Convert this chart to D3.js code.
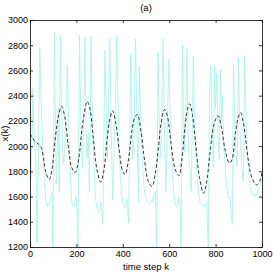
<!DOCTYPE html>
<html>
<head>
<meta charset="utf-8">
<script src="https://cdn.jsdelivr.net/npm/d3@7"></script>
<style>
  html, body { margin: 0; padding: 0; background: #fff; }
  svg { display: block; font-family: "Liberation Sans", Arial, sans-serif; }
  .axis text { font-size: 9px; fill: #000; }
  .axis path, .axis line { stroke: #000; stroke-width: 0.8; }
</style>
</head>
<body>
<div id="chart"></div>
<script>
// noisy trajectory (cyan)
const cyanK = [0, 3, 7, 13, 17, 22, 26, 30, 35, 42, 46, 50, 55, 60, 65, 70, 75, 80, 85, 90, 95, 99,
  105, 109, 113, 117, 121, 126, 131, 135, 140, 146, 152, 161, 165, 170, 175, 180, 186, 192, 197, 201,
  207, 213, 217, 222, 227, 232, 237, 241, 246, 251, 256, 263, 267, 272, 278, 284, 290, 296, 301, 305,
  309, 314, 323, 328, 333, 338, 344, 349, 353, 357, 362, 368, 374, 379, 384, 390, 396, 402, 408, 414,
  418, 421, 425, 434, 438, 443, 448, 455, 459, 463, 467, 471, 476, 481, 487, 493, 500, 507, 514, 520,
  526, 531, 535, 540, 546, 552, 556, 561, 566, 573, 578, 582, 586, 592, 599, 603, 608, 614, 620, 627,
  633, 638, 643, 646, 651, 657, 661, 666, 671, 676, 680, 685, 690, 695, 700, 704, 708, 713, 719, 726,
  732, 738, 744, 750, 756, 762, 768, 774, 779, 784, 790, 796, 800, 805, 810, 816, 821, 826, 830, 836,
  843, 850, 856, 862, 868, 872, 877, 882, 887, 893, 898, 903, 908, 914, 920, 925, 930, 936, 942, 948,
  954, 960, 966, 972, 978, 984, 990, 995, 1000];
const cyanV = [2100, 1720, 1950, 2460, 2100, 1980, 1850, 1230, 1750, 2780, 2500, 2250, 2000, 1800, 1640, 1540, 1520, 1550, 1540, 1600, 1640, 1200,
  2900, 2300, 1700, 1900, 2300, 1640, 2870, 2400, 2000, 1850, 2100, 2640, 2300, 2000, 1750, 1560, 1520, 1530, 1600, 1580,
  1200, 2880, 2400, 2000, 1830, 2300, 2860, 2200, 1900, 2100, 1640, 2870, 2400, 2000, 1750, 1560, 1490, 1470, 1500, 1560,
  1480, 1380, 2760, 2300, 1900, 2300, 2850, 2300, 1850, 1570, 2000, 2300, 2870, 2400, 2000, 1750, 1600, 1530, 1510, 1540,
  1580, 1500, 1390, 2730, 2300, 1900, 2100, 2850, 2400, 2000, 1560, 2630, 2300, 2000, 1800, 1650, 1580, 1560, 1540, 1550,
  1580, 1560, 1620, 1640, 1200, 2740, 2300, 1900, 2100, 2850, 2300, 1900, 1640, 2200, 2690, 2300, 2000, 1780, 1620, 1530,
  1520, 1550, 1600, 1580, 1200, 2800, 2300, 1950, 2200, 2770, 2300, 1900, 1800, 1640, 2200, 2710, 2300, 2000, 1800, 1640,
  1560, 1530, 1520, 1540, 1520, 1550, 1200, 2420, 2640, 2200, 1830, 2640, 2300, 2580, 2100, 1900, 2600, 2200, 2400, 2000,
  1770, 1650, 1590, 1600, 1450, 1380, 2650, 2200, 1950, 1840, 2700, 2300, 2000, 1800, 1720, 2710, 2300, 2000, 1800, 1680,
  1620, 1610, 1620, 1600, 1630, 1650, 1680, 1720, 1790];

// smooth trajectory (dashed)
const meanK = [0, 20, 40, 50, 60, 70, 83, 95, 110, 125, 137, 150, 165, 180, 195, 210, 225, 240, 246, 258,
  272, 288, 305, 318, 332, 345, 356, 370, 385, 398, 410, 425, 440, 452, 463, 478, 495, 510, 526, 540,
  552, 565, 580, 592, 608, 625, 642, 655, 668, 680, 688, 700, 715, 730, 748, 760, 775, 790, 805, 812,
  825, 840, 860, 872, 885, 898, 908, 922, 940, 958, 977, 990, 1000];
const meanV = [2100, 2040, 2010, 1980, 1880, 1780, 1735, 1820, 2080, 2260, 2315, 2230, 2000, 1830, 1790, 1900, 2150, 2320, 2355, 2300,
  2080, 1820, 1715, 1800, 2050, 2220, 2280, 2180, 1960, 1810, 1775, 1900, 2130, 2230, 2250, 2120, 1870, 1720, 1680, 1780,
  1960, 2180, 2290, 2240, 2020, 1820, 1765, 1900, 2150, 2300, 2335, 2250, 2000, 1760, 1625, 1700, 1930, 2150, 2230, 2240,
  2150, 1980, 1865, 1900, 2100, 2230, 2265, 2160, 1900, 1740, 1692, 1720, 1790];

const xTicks = [0, 200, 400, 600, 800, 1000];
const yTicks = [1200, 1400, 1600, 1800, 2000, 2200, 2400, 2600, 2800, 3000];

const width = 273, height = 273;
const margin = { top: 20, right: 11, bottom: 26, left: 30 };
const innerWidth = width - margin.left - margin.right;
const innerHeight = height - margin.top - margin.bottom;

const svg = d3.select("#chart").append("svg")
    .attr("width", width).attr("height", height);
const g = svg.append("g").attr("transform", `translate(${margin.left},${margin.top})`);

const x = d3.scaleLinear().domain([0, 1000]).range([0, innerWidth]);
const y = d3.scaleLinear().domain([1200, 3000]).range([innerHeight, 0]);
const fmt = d3.format("d");

g.append("clipPath").attr("id", "clip").append("rect")
    .attr("width", innerWidth).attr("height", innerHeight);

const plot = g.append("g").attr("clip-path", "url(#clip)");

plot.append("path")
    .datum(d3.range(cyanK.length))
    .attr("fill", "none")
    .attr("stroke", "#a3f7e6")
    .attr("stroke-width", 0.85)
    .attr("d", d3.line().x(i => x(cyanK[i])).y(i => y(cyanV[i])));

plot.append("path")
    .datum(d3.range(meanK.length))
    .attr("fill", "none")
    .attr("stroke", "#333")
    .attr("stroke-width", 1)
    .attr("stroke-dasharray", "3.5,2.2")
    .attr("d", d3.line().curve(d3.curveCatmullRom).x(i => x(meanK[i])).y(i => y(meanV[i])));

// axes box with inward ticks
g.append("g").attr("class", "axis")
    .attr("transform", `translate(0,${innerHeight})`)
    .call(d3.axisBottom(x).tickValues(xTicks).tickFormat(fmt).tickSizeInner(-3).tickSizeOuter(0).tickPadding(4));
g.append("g").attr("class", "axis")
    .call(d3.axisLeft(y).tickValues(yTicks).tickFormat(fmt).tickSizeInner(-3).tickSizeOuter(0).tickPadding(2));
g.append("g").attr("class", "axis")
    .call(d3.axisTop(x).tickValues(xTicks).tickSizeInner(-3).tickSizeOuter(0))
    .call(a => a.selectAll("text").remove());
g.append("g").attr("class", "axis")
    .attr("transform", `translate(${innerWidth},0)`)
    .call(d3.axisRight(y).tickValues(yTicks).tickSizeInner(-3).tickSizeOuter(0))
    .call(a => a.selectAll("text").remove());

svg.append("text").attr("text-anchor", "middle")
    .attr("x", margin.left + innerWidth / 2).attr("y", 11)
    .style("font-size", "9.5px").text("(a)");
svg.append("text").attr("text-anchor", "middle")
    .attr("x", margin.left + innerWidth / 2).attr("y", 270)
    .style("font-size", "9.5px").text("time step k");
svg.append("text").attr("text-anchor", "middle")
    .attr("transform", `translate(8,${margin.top + innerHeight / 2}) rotate(-90)`)
    .style("font-size", "9.5px").text("x(k)");
</script>
</body>
</html>
